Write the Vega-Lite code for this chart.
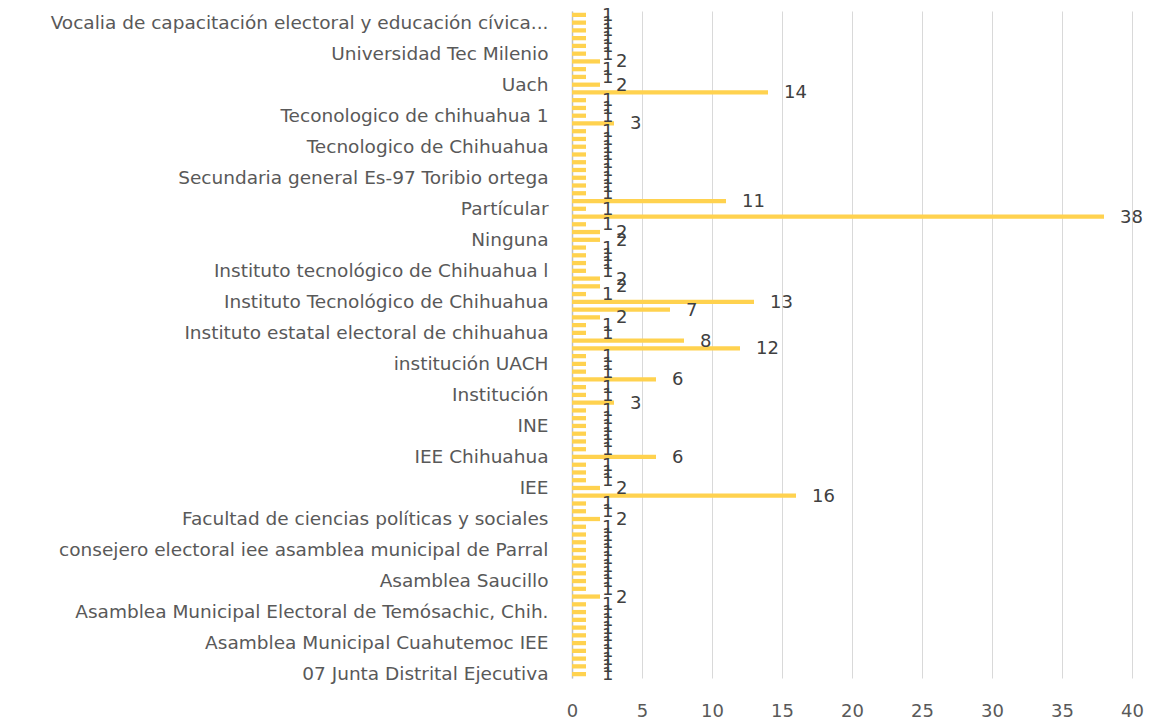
{
  "$schema": "https://vega.github.io/schema/vega-lite/v6.json",
  "width": 560,
  "height": 667,
  "autosize": {"type": "none"},
  "padding": {"left": 572, "top": 11, "right": 19, "bottom": 46},
  "background": "#ffffff",
  "config": {
    "view": {"stroke": null},
    "font": "DejaVu Sans",
    "axis": {"labelFont": "DejaVu Sans", "labelColor": "#595959"}
  },
  "data": {
    "values": [
      {"key": "00|", "value": 1},
      {"key": "01|Vocalia de capacitación electoral y educación cívica...", "value": 1},
      {"key": "02|", "value": 1},
      {"key": "03|", "value": 1},
      {"key": "04|", "value": 1},
      {"key": "05|Universidad Tec Milenio", "value": 1},
      {"key": "06|", "value": 2},
      {"key": "07|", "value": 1},
      {"key": "08|", "value": 1},
      {"key": "09|Uach", "value": 2},
      {"key": "10|", "value": 14},
      {"key": "11|", "value": 1},
      {"key": "12|", "value": 1},
      {"key": "13|Teconologico de chihuahua 1", "value": 1},
      {"key": "14|", "value": 3},
      {"key": "15|", "value": 1},
      {"key": "16|", "value": 1},
      {"key": "17|Tecnologico de Chihuahua", "value": 1},
      {"key": "18|", "value": 1},
      {"key": "19|", "value": 1},
      {"key": "20|", "value": 1},
      {"key": "21|Secundaria general Es-97 Toribio ortega", "value": 1},
      {"key": "22|", "value": 1},
      {"key": "23|", "value": 1},
      {"key": "24|", "value": 11},
      {"key": "25|Partícular", "value": 1},
      {"key": "26|", "value": 38},
      {"key": "27|", "value": 1},
      {"key": "28|", "value": 2},
      {"key": "29|Ninguna", "value": 2},
      {"key": "30|", "value": 1},
      {"key": "31|", "value": 1},
      {"key": "32|", "value": 1},
      {"key": "33|Instituto tecnológico de Chihuahua l", "value": 1},
      {"key": "34|", "value": 2},
      {"key": "35|", "value": 2},
      {"key": "36|", "value": 1},
      {"key": "37|Instituto Tecnológico de Chihuahua", "value": 13},
      {"key": "38|", "value": 7},
      {"key": "39|", "value": 2},
      {"key": "40|", "value": 1},
      {"key": "41|Instituto estatal electoral de chihuahua", "value": 1},
      {"key": "42|", "value": 8},
      {"key": "43|", "value": 12},
      {"key": "44|", "value": 1},
      {"key": "45|institución UACH", "value": 1},
      {"key": "46|", "value": 1},
      {"key": "47|", "value": 6},
      {"key": "48|", "value": 1},
      {"key": "49|Institución", "value": 1},
      {"key": "50|", "value": 3},
      {"key": "51|", "value": 1},
      {"key": "52|", "value": 1},
      {"key": "53|INE", "value": 1},
      {"key": "54|", "value": 1},
      {"key": "55|", "value": 1},
      {"key": "56|", "value": 1},
      {"key": "57|IEE Chihuahua", "value": 6},
      {"key": "58|", "value": 1},
      {"key": "59|", "value": 1},
      {"key": "60|", "value": 1},
      {"key": "61|IEE", "value": 2},
      {"key": "62|", "value": 16},
      {"key": "63|", "value": 1},
      {"key": "64|", "value": 1},
      {"key": "65|Facultad de ciencias políticas y sociales", "value": 2},
      {"key": "66|", "value": 1},
      {"key": "67|", "value": 1},
      {"key": "68|", "value": 1},
      {"key": "69|consejero electoral iee asamblea municipal de Parral", "value": 1},
      {"key": "70|", "value": 1},
      {"key": "71|", "value": 1},
      {"key": "72|", "value": 1},
      {"key": "73|Asamblea Saucillo", "value": 1},
      {"key": "74|", "value": 1},
      {"key": "75|", "value": 2},
      {"key": "76|", "value": 1},
      {"key": "77|Asamblea Municipal Electoral de Temósachic, Chih.", "value": 1},
      {"key": "78|", "value": 1},
      {"key": "79|", "value": 1},
      {"key": "80|", "value": 1},
      {"key": "81|Asamblea Municipal Cuahutemoc IEE", "value": 1},
      {"key": "82|", "value": 1},
      {"key": "83|", "value": 1},
      {"key": "84|", "value": 1},
      {"key": "85|07 Junta Distrital Ejecutiva", "value": 1}
    ]
  },
  "encoding": {
    "y": {
      "field": "key",
      "type": "nominal",
      "sort": null,
      "scale": {"paddingInner": 0.45, "paddingOuter": 0.225},
      "axis": {
        "title": null,
        "ticks": false,
        "grid": false,
        "labelExpr": "split(datum.value, '|')[1]",
        "labelFontSize": 18.5,
        "labelPadding": 24,
        "labelLimit": 600,
        "labelOverlap": false,
        "domainColor": "#BFBFBF",
        "domainWidth": 1.5
      }
    },
    "x": {
      "field": "value",
      "type": "quantitative",
      "scale": {"domain": [0, 40], "nice": false},
      "axis": {
        "title": null,
        "values": [0, 5, 10, 15, 20, 25, 30, 35, 40],
        "domain": false,
        "ticks": false,
        "grid": true,
        "gridColor": "#D9D9D9",
        "gridWidth": 1,
        "labelFlush": false,
        "labelFontSize": 18,
        "labelPadding": 24
      }
    }
  },
  "layer": [
    {"mark": {"type": "bar", "color": "#FFD24F"}},
    {
      "mark": {
        "type": "text",
        "align": "left",
        "baseline": "middle",
        "dx": 16,
        "dy": 1,
        "fontSize": 18,
        "color": "#404040"
      },
      "encoding": {"text": {"field": "value", "type": "quantitative"}}
    }
  ]
}
